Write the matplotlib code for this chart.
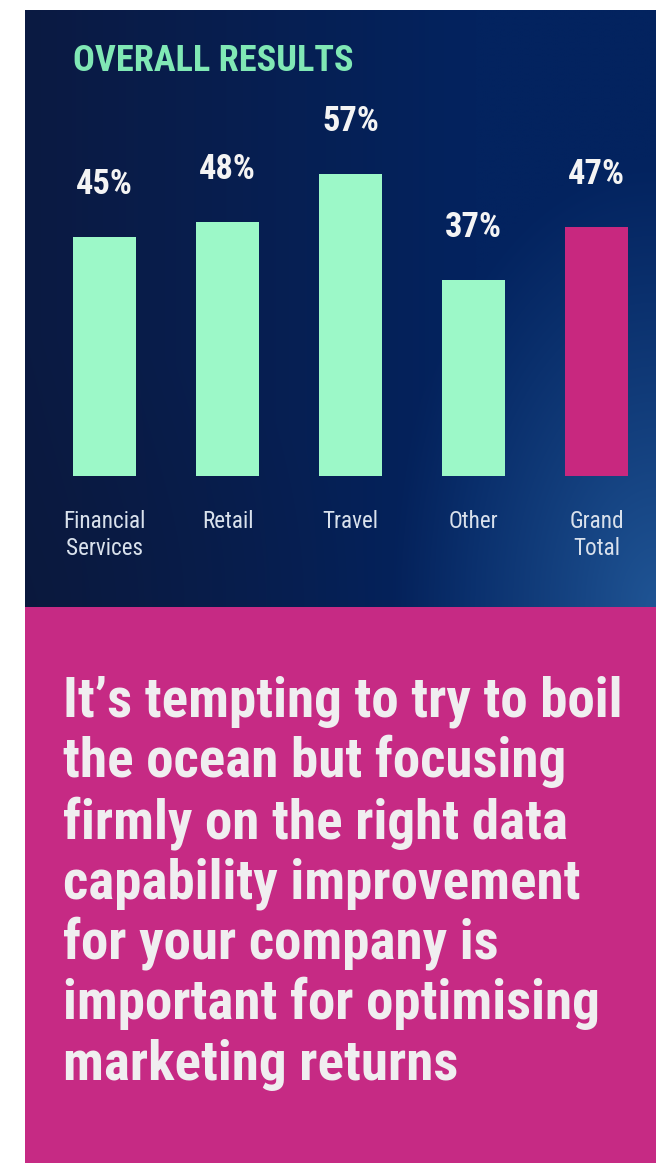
import numpy as np
import matplotlib
matplotlib.use("Agg")
import matplotlib.pyplot as plt
from matplotlib import font_manager
from matplotlib.patches import Rectangle
from matplotlib.colors import to_rgb

# ---------------- data ----------------
categories = ["Financial\nServices", "Retail", "Travel", "Other", "Grand\nTotal"]
values = [45, 48, 57, 37, 47]
is_total = [False, False, False, False, True]
title = "OVERALL RESULTS"
body_lines = [
    "It\u2019s tempting to try to boil",
    "the ocean but focusing",
    "firmly on the right data",
    "capability improvement",
    "for your company is",
    "important for optimising",
    "marketing returns",
]

# ---------------- style ----------------
W, H = 656, 1163
NAVY_PANEL = (25, 10, 656, 607)      # x0, y0, x1, y1 in pixels (top-left origin)
MAGENTA_PANEL = (25, 607, 656, 1163)
BAR_GREEN = "#9cf8c8"
BAR_TOTAL = "#c8287f"
MAGENTA = "#c62a84"
TITLE_GREEN = "#80e8b5"
WHITE_TXT = "#f4f4f4"
LABEL_TXT = "#d9e1ec"
BODY_TXT = "#f0eef0"


def pick_font(cands):
    for c in cands:
        try:
            font_manager.findfont(font_manager.FontProperties(family=c), fallback_to_default=False)
            return c
        except Exception:
            continue
    return "DejaVu Sans"


FONT = pick_font(["Roboto Condensed", "Liberation Sans Narrow", "Roboto", "Liberation Sans"])

fig = plt.figure(figsize=(W / 100, H / 100), dpi=100)
fig.patch.set_facecolor("white")
renderer = fig.canvas.get_renderer()

# background axes in pixel coordinates
bg = fig.add_axes([0, 0, 1, 1])
bg.set_xlim(0, W)
bg.set_ylim(H, 0)
bg.axis("off")

# navy gradient
x0, y0, x1, y1 = NAVY_PANEL
nx, ny = 320, 300
xx, yy = np.meshgrid(np.linspace(0, 1, nx), np.linspace(0, 1, ny))
dark = np.array(to_rgb("#0b1a42"))
mid = np.array(to_rgb("#03235f"))
glow = np.array(to_rgb("#1f5494"))
t = np.clip(xx * 1.4, 0, 1)[..., None]
img = dark * (1 - t) + mid * t
# darker bottom-left
bl = np.clip(1 - np.hypot(xx / 0.55, (1 - yy) / 0.45), 0, 1)[..., None]
img = img * (1 - 0.3 * bl) + np.array(to_rgb("#0a1632")) * 0.3 * bl
# lighter glow along the right and bottom-right
g = np.clip(1 - np.hypot((1 - xx) / 0.42, (1 - yy) / 0.75), 0, 1)[..., None] ** 1.1
img = img * (1 - g) + glow * g
bg.imshow(img, extent=(x0, x1, y1, y0), aspect="auto", zorder=0, interpolation="bilinear")

mx0, my0, mx1, my1 = MAGENTA_PANEL
bg.add_patch(Rectangle((mx0, my0), mx1 - mx0, my1 - my0, color=MAGENTA, zorder=1, lw=0))


def fit_size(text, target_w, weight="normal", family=FONT):
    tt = fig.text(0, 0, text, fontsize=20, weight=weight, family=family)
    w = tt.get_window_extent(renderer).width
    tt.remove()
    return 20 * target_w / w


# title
ts = fit_size(title, 280, weight="bold")
bg.text(73, 71, title, fontsize=ts, weight="bold", family=FONT, color=TITLE_GREEN,
        ha="left", va="baseline", zorder=3)

# ---------------- bar chart ----------------
left_px, right_px, bottom_px, top_px = 43, 656, 476, 52
ax = fig.add_axes([left_px / W, 1 - bottom_px / H, (right_px - left_px) / W, (bottom_px - top_px) / H])
ax.patch.set_alpha(0)
xs = np.arange(len(categories))
colors = [BAR_TOTAL if t_ else BAR_GREEN for t_ in is_total]
bars = ax.bar(xs, values, width=0.512, color=colors, zorder=2)
ax.set_xlim(-0.5, -0.5 + (right_px - left_px) / 123)
ax.set_ylim(0, 80)
for s in ax.spines.values():
    s.set_visible(False)
ax.set_yticks([])

vs = fit_size("45%", 57, weight="bold")
for b, v in zip(bars, values):
    ax.annotate(f"{v}%", (b.get_x() + b.get_width() / 2, b.get_height()),
                xytext=(0, 43 * 0.72), textcoords="offset points",
                ha="center", va="baseline", fontsize=vs, weight="bold",
                family=FONT, color=WHITE_TXT)

cs = fit_size("Financial", 82)
ax.set_xticks(xs)
ax.set_xticklabels(categories, fontsize=cs, family=FONT, color=LABEL_TXT, linespacing=1.25)
ax.tick_params(axis="x", length=0, pad=34 * 0.72)

# ---------------- body text ----------------
bsz = fit_size(body_lines[0], 559, weight="bold")
base0, step = 717, 60.5
for i, line in enumerate(body_lines):
    bg.text(63, base0 + i * step, line, fontsize=bsz, weight="bold", family=FONT,
            color=BODY_TXT, ha="left", va="baseline", zorder=3)

fig.savefig("out.png", dpi=100, facecolor=fig.get_facecolor())
